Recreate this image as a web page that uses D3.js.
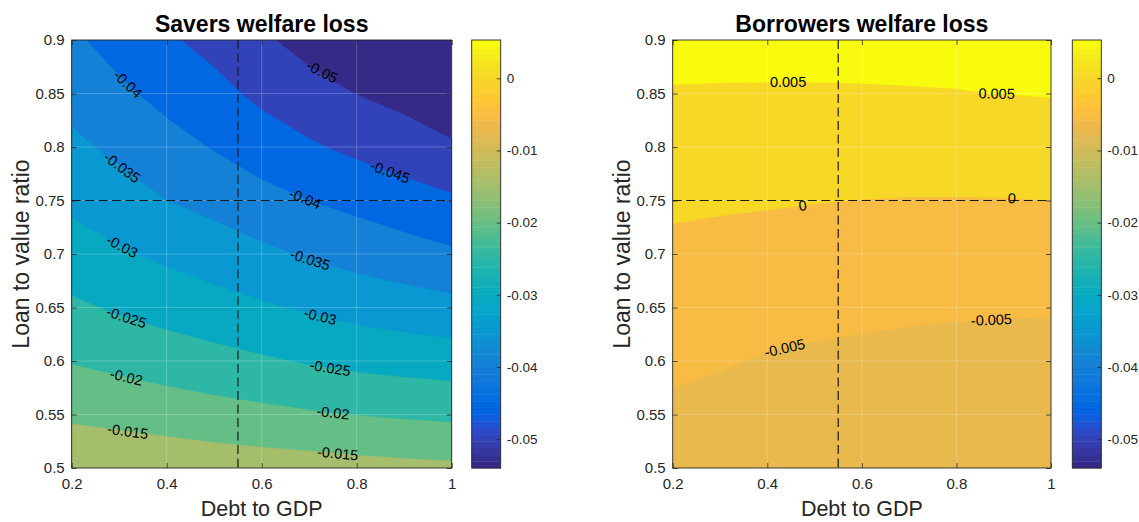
<!DOCTYPE html>
<html><head><meta charset="utf-8">
<script src="https://cdn.jsdelivr.net/npm/d3@7"></script>
<style>
body{margin:0;background:#fff}
text{font-family:"Liberation Sans",Arial,Helvetica,sans-serif}
</style>
</head><body>
<svg id="c" width="1139" height="522"></svg>
<script>
// ---------------- data ----------------
const debtToGDP = [0.2, 0.3, 0.4, 0.5, 0.6, 0.7, 0.8, 0.9, 1.0];
const loanToValue = [0.5, 0.55, 0.6, 0.65, 0.7, 0.75, 0.8, 0.85, 0.9];

// rows follow loanToValue (0.5 -> 0.9), columns follow debtToGDP (0.2 -> 1)
const saversLoss = [
  [-0.0112, -0.0114, -0.0117, -0.0122, -0.0126, -0.0129, -0.0134, -0.0138, -0.0141],
  [-0.0158, -0.0165, -0.0173, -0.0181, -0.0188, -0.0195, -0.0201, -0.0206, -0.0210],
  [-0.0203, -0.0213, -0.0224, -0.0234, -0.0244, -0.0254, -0.0263, -0.0269, -0.0274],
  [-0.0242, -0.0256, -0.0269, -0.0281, -0.0294, -0.0306, -0.0318, -0.0327, -0.0335],
  [-0.0278, -0.0294, -0.0310, -0.0325, -0.0340, -0.0355, -0.0368, -0.0380, -0.0393],
  [-0.0311, -0.0329, -0.0350, -0.0365, -0.0384, -0.0400, -0.0414, -0.0429, -0.0443],
  [-0.0340, -0.0361, -0.0383, -0.0403, -0.0425, -0.0444, -0.0461, -0.0477, -0.0495],
  [-0.0366, -0.0391, -0.0414, -0.0435, -0.0461, -0.0482, -0.0501, -0.0515, -0.0528],
  [-0.0392, -0.0418, -0.0443, -0.0466, -0.0493, -0.0517, -0.0524, -0.0533, -0.0540]
];
const borrowersLoss = [
  [-0.0062, -0.0068, -0.0071, -0.0072, -0.0073, -0.0074, -0.0075, -0.0075, -0.0076],
  [-0.0058, -0.0062, -0.0066, -0.0068, -0.0070, -0.0071, -0.0072, -0.0073, -0.0074],
  [-0.0042, -0.0047, -0.0053, -0.0057, -0.0060, -0.00632, -0.00659, -0.0067, -0.00687],
  [-0.0026, -0.00304, -0.00347, -0.00376, -0.00404, -0.00426, -0.00444, -0.00452, -0.00459],
  [-0.00098, -0.00129, -0.00158, -0.00182, -0.00204, -0.00221, -0.00231, -0.00232, -0.00229],
  [0.00076, 0.00053, 0.00034, 0.00013, -0.00004, -0.00016, -0.00017, -0.00013, 0.00001],
  [0.00273, 0.00256, 0.00244, 0.00232, 0.00227, 0.00223, 0.0023, 0.00242, 0.00266],
  [0.00498, 0.00495, 0.00492, 0.00492, 0.00493, 0.00495, 0.00498, 0.00501, 0.0052],
  [0.0051, 0.0052, 0.0053, 0.0053, 0.0053, 0.0053, 0.0052, 0.0052, 0.0053]
];

const saversLevels = [-0.05, -0.045, -0.04, -0.035, -0.03, -0.025, -0.02, -0.015];
const borrowersLevels = [-0.005, 0, 0.005];

// contour labels: [level, debt-to-GDP position of the label]
const saversLabels = [
  [-0.04, 0.318], [-0.04, 0.691], [-0.05, 0.727], [-0.045, 0.87],
  [-0.035, 0.306], [-0.035, 0.702], [-0.03, 0.306], [-0.03, 0.723],
  [-0.025, 0.315], [-0.025, 0.744], [-0.02, 0.315], [-0.02, 0.75],
  [-0.015, 0.318], [-0.015, 0.76]
];
const borrowersLabels = [
  [0.005, 0.444], [0.005, 0.885], [0, 0.475], [0, 0.917],
  [-0.005, 0.437], [-0.005, 0.874]
];

const benchmarkDebt = 0.55;
const benchmarkLTV = 0.75;

const xTicks = [0.2, 0.4, 0.6, 0.8, 1];
const yTicks = [0.5, 0.55, 0.6, 0.65, 0.7, 0.75, 0.8, 0.85, 0.9];
const colorbarTicks = [-0.05, -0.04, -0.03, -0.02, -0.01, 0];

const parula = ["#352a87","#363093","#3637a0","#353dad","#3243ba","#2c4ac7","#2053d4","#0f5cdd",
"#0363e1","#0268e1","#046de0","#0871de","#0d75dc","#1079da","#127dd8","#1481d6",
"#1485d4","#1389d3","#108ed2","#0c93d2","#0998d1","#079ccf","#06a0cd","#06a4ca",
"#06a7c6","#07a9c2","#0aacbe","#0faeb9","#15b1b4","#1db3af","#25b5a9","#2eb7a4",
"#38b99e","#42bb98","#4dbc92","#59bd8c","#65be86","#71bf80","#7cbf7b","#87bf77",
"#92bf73","#9cbf6f","#a5be6b","#aebe67","#b7bd64","#c0bc60","#c8bc5d","#d1bb59",
"#d9ba56","#e1b952","#e9b94e","#f1b94a","#f8bb44","#fdbe3d","#ffc337","#fec832",
"#fcce2e","#fad32a","#f7d826","#f5de21","#f5e41d","#f5eb18","#f6f313","#f9fb0e"];

// ---------------- drawing ----------------
const svg = d3.select("#c");
const plotTop = 40, plotBottom = 468;
const axisColor = "#262626";
const allVals = saversLoss.flat().concat(borrowersLoss.flat());
const cmin = d3.min(allVals), cmax = d3.max(allVals);
const color = d3.scaleQuantize().domain([cmin, cmax]).range(parula);
const fmt = v => String(+v.toFixed(3));

function drawPanel(cfg, idx) {
  const g = svg.append("g");
  const x = d3.scaleLinear().domain([0.2, 1]).range([cfg.left, cfg.right]);
  const y = d3.scaleLinear().domain([0.5, 0.9]).range([plotBottom, plotTop]);
  const n = debtToGDP.length, m = loanToValue.length;
  const values = cfg.grid.flat();
  const gx = d3.scaleLinear().domain([0.5, n - 0.5]).range([x(debtToGDP[0]), x(debtToGDP[n - 1])]);
  const gy = d3.scaleLinear().domain([0.5, m - 0.5]).range([y(loanToValue[0]), y(loanToValue[m - 1])]);
  const path = d3.geoPath(d3.geoTransform({point(px, py) { this.stream.point(gx(px), gy(py)); }}));

  const clipId = "clip" + idx;
  svg.append("clipPath").attr("id", clipId).append("rect")
    .attr("x", x(0.2)).attr("y", y(0.9)).attr("width", x(1) - x(0.2)).attr("height", y(0.5) - y(0.9));
  const fills = g.append("g").attr("clip-path", `url(#${clipId})`);
  fills.append("rect").attr("x", x(0.2)).attr("y", y(0.9))
    .attr("width", x(1) - x(0.2)).attr("height", y(0.5) - y(0.9))
    .attr("fill", color(d3.min(values)));
  const contours = d3.contours().size([n, m]).thresholds(cfg.levels)(values);
  fills.selectAll("path.band").data(contours).join("path").attr("class", "band")
    .attr("d", d => path(d)).attr("fill", d => color(d.value))
    .attr("stroke", d => color(d.value)).attr("stroke-width", 0.3);

  // faint grid
  fills.selectAll("line.gx").data(xTicks.slice(1, -1)).join("line").attr("class", "gx")
    .attr("x1", d => x(d)).attr("x2", d => x(d)).attr("y1", plotTop).attr("y2", plotBottom)
    .attr("stroke", "#fff").attr("stroke-opacity", 0.28).attr("stroke-width", 0.8);
  fills.selectAll("line.gy").data(yTicks.slice(1, -1)).join("line").attr("class", "gy")
    .attr("y1", d => y(d)).attr("y2", d => y(d)).attr("x1", x(0.2)).attr("x2", x(1))
    .attr("stroke", "#fff").attr("stroke-opacity", 0.28).attr("stroke-width", 0.8);

  // benchmark dashed lines
  fills.append("line").attr("x1", x(benchmarkDebt)).attr("x2", x(benchmarkDebt))
    .attr("y1", plotTop).attr("y2", plotBottom)
    .attr("stroke", "#1a1a1a").attr("stroke-width", 1.2).attr("stroke-dasharray", "9,4.5");
  fills.append("line").attr("y1", y(benchmarkLTV)).attr("y2", y(benchmarkLTV))
    .attr("x1", x(0.2)).attr("x2", x(1))
    .attr("stroke", "#1a1a1a").attr("stroke-width", 1.2).attr("stroke-dasharray", "9,4.5");

  // contour labels
  function crossY(level, xd) {
    const fi = (xd - debtToGDP[0]) / (debtToGDP[1] - debtToGDP[0]);
    const i0 = Math.max(0, Math.min(Math.floor(fi), n - 2)), t = fi - i0;
    const prof = cfg.grid.map(r => r[i0] * (1 - t) + r[i0 + 1] * t);
    for (let j = 0; j < m - 1; j++) {
      const a = prof[j] - level, b = prof[j + 1] - level;
      if (a * b <= 0 && prof[j] !== prof[j + 1]) {
        return loanToValue[j] + (level - prof[j]) / (prof[j + 1] - prof[j]) * (loanToValue[j + 1] - loanToValue[j]);
      }
    }
    return null;
  }
  cfg.labels.forEach(([level, xd]) => {
    const yd = crossY(level, xd);
    if (yd == null) return;
    const ya = crossY(level, xd - 0.015), yb = crossY(level, xd + 0.015);
    const ang = (ya != null && yb != null)
      ? Math.atan2(y(yb) - y(ya), x(xd + 0.015) - x(xd - 0.015)) * 180 / Math.PI : 0;
    g.append("text").attr("transform", `translate(${x(xd)},${y(yd)}) rotate(${ang})`)
      .attr("text-anchor", "middle").attr("dominant-baseline", "central")
      .attr("font-size", 14.5).attr("fill", "#000").text(fmt(level));
  });

  // axes
  const ax = g.append("g").attr("transform", `translate(0,${plotBottom})`)
    .call(d3.axisBottom(x).tickValues(xTicks).tickSizeInner(-5).tickSizeOuter(0).tickPadding(10).tickFormat(d => String(d)));
  const ay = g.append("g").attr("transform", `translate(${x(0.2)},0)`)
    .call(d3.axisLeft(y).tickValues(yTicks).tickSizeInner(-5).tickSizeOuter(0).tickPadding(7).tickFormat(d => String(+d.toFixed(2))));
  const axT = g.append("g").attr("transform", `translate(0,${plotTop})`)
    .call(d3.axisTop(x).tickValues(xTicks).tickSizeInner(-5).tickSizeOuter(0).tickFormat(""));
  const ayR = g.append("g").attr("transform", `translate(${x(1)},0)`)
    .call(d3.axisRight(y).tickValues(yTicks).tickSizeInner(-5).tickSizeOuter(0).tickFormat(""));
  [ax, ay, axT, ayR].forEach(a => {
    a.select(".domain").remove();
    a.selectAll("line").attr("stroke", axisColor).attr("stroke-width", 0.8);
    a.selectAll("text").attr("fill", axisColor).attr("font-size", 15)
      .attr("font-family", '"Liberation Sans",Arial,sans-serif');
  });
  g.append("rect").attr("x", x(0.2)).attr("y", plotTop).attr("width", x(1) - x(0.2))
    .attr("height", plotBottom - plotTop).attr("fill", "none").attr("stroke", axisColor).attr("stroke-width", 0.9);

  // titles / labels
  g.append("text").attr("x", (x(0.2) + x(1)) / 2).attr("y", 32).attr("text-anchor", "middle")
    .attr("font-size", 23).attr("font-weight", "bold").attr("fill", "#000").text(cfg.title);
  g.append("text").attr("x", (x(0.2) + x(1)) / 2).attr("y", 516).attr("text-anchor", "middle")
    .attr("font-size", 21.5).attr("fill", axisColor).text("Debt to GDP");
  g.append("text").attr("transform", `translate(${cfg.left - 43},${(plotTop + plotBottom) / 2}) rotate(-90)`)
    .attr("text-anchor", "middle").attr("font-size", 23).attr("fill", axisColor).text("Loan to value ratio");

  // colorbar
  const cb = d3.scaleLinear().domain([cmin, cmax]).range([plotBottom, plotTop]);
  const cbg = g.append("g");
  const steps = parula.map((c, i) => ({c, v0: cmin + (cmax - cmin) * i / parula.length, v1: cmin + (cmax - cmin) * (i + 1) / parula.length}));
  cbg.selectAll("rect").data(steps).join("rect")
    .attr("x", cfg.cbLeft).attr("width", cfg.cbWidth)
    .attr("y", d => cb(d.v1)).attr("height", d => cb(d.v0) - cb(d.v1) + 0.4)
    .attr("fill", d => d.c);
  const cax = cbg.append("g").attr("transform", `translate(${cfg.cbLeft + cfg.cbWidth},0)`)
    .call(d3.axisRight(cb).tickValues(colorbarTicks).tickSizeInner(-4).tickSizeOuter(0).tickPadding(6).tickFormat(d => fmt(d)));
  cax.select(".domain").remove();
  cax.selectAll("line").attr("stroke", axisColor).attr("stroke-width", 0.8);
  cax.selectAll("text").attr("fill", axisColor).attr("font-size", 13.5)
    .attr("font-family", '"Liberation Sans",Arial,sans-serif');
  cbg.append("rect").attr("x", cfg.cbLeft).attr("y", plotTop).attr("width", cfg.cbWidth)
    .attr("height", plotBottom - plotTop).attr("fill", "none").attr("stroke", axisColor).attr("stroke-width", 0.9);
}

drawPanel({left: 71.7, right: 451.7, grid: saversLoss, levels: saversLevels, labels: saversLabels,
  title: "Savers welfare loss", cbLeft: 471.7, cbWidth: 29}, 0);
drawPanel({left: 672.7, right: 1051, grid: borrowersLoss, levels: borrowersLevels, labels: borrowersLabels,
  title: "Borrowers welfare loss", cbLeft: 1072.3, cbWidth: 29}, 1);
</script>
</body></html>
